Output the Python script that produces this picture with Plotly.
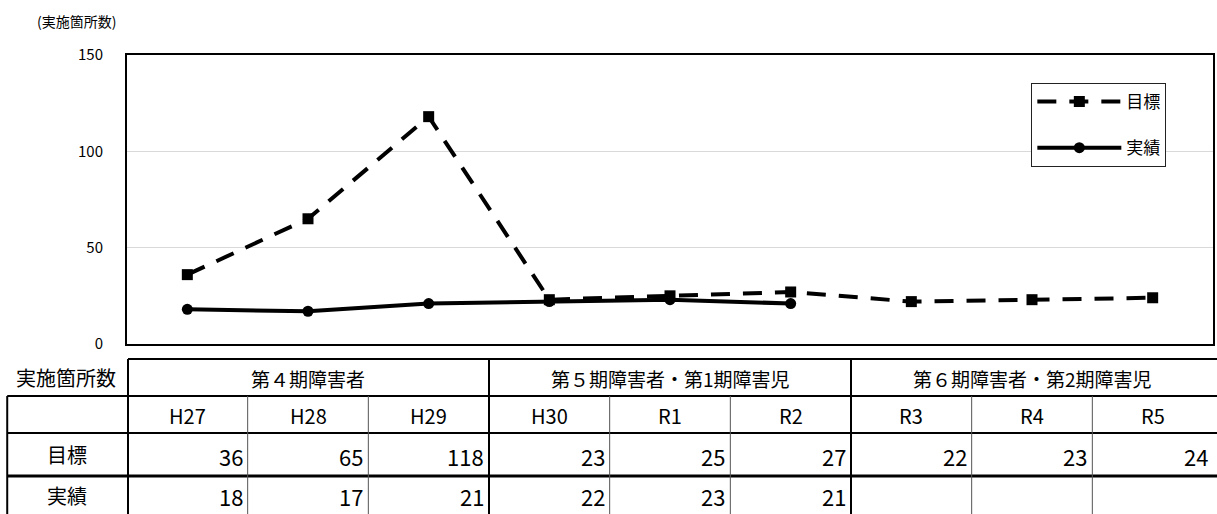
import plotly.graph_objects as go

# -- data --
years = ["H27", "H28", "H29", "H30", "R1", "R2", "R3", "R4", "R5"]
target = [36, 65, 118, 23, 25, 27, 22, 23, 24]
actual = [18, 17, 21, 22, 23, 21]
periods = ["第４期障害者", "第５期障害者・第1期障害児", "第６期障害者・第2期障害児"]
period_span = [3, 3, 3]
row_labels = ["目標", "実績"]
y_ticks = [0, 50, 100, 150]

FONT = "Noto Sans CJK JP"
INK = "#000000"

# -- page geometry (pixels) --
W, H = 1217, 514
L, R, T, B = 127, 2, 55, 170
PW = W - L - R
PH = H - T - B


def px(v):
    return (v - L) / PW


def py(v):
    return (H - B - v) / PH


def edge(k):
    # paper x of the boundary after k categories
    return k / len(years)


fig = go.Figure()

fig.add_trace(go.Scatter(
    x=years, y=target, name="目標", mode="lines+markers",
    line=dict(color=INK, width=4, dash="19px,13px"),
    marker=dict(symbol="square", size=11, color=INK),
    legendgroup="a",
))
fig.add_trace(go.Scatter(
    x=years[:len(actual)], y=actual, name="実績", mode="lines+markers",
    line=dict(color=INK, width=4),
    marker=dict(symbol="circle", size=11, color=INK),
    legendgroup="b",
))

# -- table below the chart --
rows = [359, 396, 433, 476, 522]
shapes = []


def hline(y, x0, x1, w):
    shapes.append(dict(type="line", xref="paper", yref="paper",
                       x0=x0, x1=x1, y0=py(y), y1=py(y),
                       line=dict(color=INK, width=w)))


def vline(x, y0, y1, w, color=INK):
    shapes.append(dict(type="line", xref="paper", yref="paper",
                       x0=x, x1=x, y0=py(y0), y1=py(y1),
                       line=dict(color=color, width=w)))


hline(rows[0], px(128), px(W + 5), 2)
hline(rows[1], px(7), px(W + 5), 2)
hline(rows[2], px(7), px(W + 5), 2)
hline(rows[3], px(7), px(W + 5), 3)
vline(px(128), rows[0], rows[-1], 2)
vline(px(7), rows[1], rows[-1], 2)

k = 0
for span in period_span[:-1]:
    k += span
    vline(edge(k), rows[0], rows[-1], 2)
group_edges = {sum(period_span[:i + 1]) for i in range(len(period_span))}
for k in range(1, len(years)):
    if k not in group_edges:
        vline(edge(k), rows[1], rows[-1], 1, "#555555")

ann = []


def text(s, x, y, size, xref="paper", **kw):
    ann.append(dict(text=s, x=x, y=y, xref=xref, yref="paper",
                    showarrow=False, font=dict(family=FONT, size=size, color=INK),
                    yanchor="middle", **kw))


text("(実施箇所数)", px(35), py(21), 14, xanchor="left")
text("実施箇所数", px(66), py(377), 20, xanchor="center")

start = 0
for name, span in zip(periods, period_span):
    text(name, start + (span - 1) / 2, py(378), 19, xref="x", xanchor="center")
    start += span

for i, yr in enumerate(years):
    text(yr, i, py(415), 20, xref="x", xanchor="center")

text(row_labels[0], px(67), py(455), 20, xanchor="center")
text(row_labels[1], px(67), py(495), 20, xanchor="center")

for i, v in enumerate(target):
    text(str(v), i + 0.5, py(456), 22, xref="x", xanchor="right", xshift=-3)
for i, v in enumerate(actual):
    text(str(v), i + 0.5, py(496), 22, xref="x", xanchor="right", xshift=-3)

fig.update_layout(
    width=W, height=H,
    margin=dict(l=L, r=R, t=T, b=B),
    paper_bgcolor="white", plot_bgcolor="white",
    font=dict(family=FONT, color=INK),
    showlegend=True,
    legend=dict(
        x=px(1033), y=py(83), xanchor="left", yanchor="top",
        bgcolor="white", bordercolor="#222222", borderwidth=1,
        font=dict(family=FONT, size=17, color=INK),
        itemwidth=84, traceorder="grouped", tracegroupgap=21,
    ),
    shapes=shapes,
    annotations=ann,
)
fig.update_xaxes(
    type="category", range=[-0.5, len(years) - 0.5],
    showticklabels=False, showgrid=False, zeroline=False,
    showline=True, mirror=True, linecolor=INK, linewidth=2, ticks="",
)
fig.update_yaxes(
    range=[0, 150], tickvals=y_ticks,
    showgrid=True, gridcolor="#d9d9d9", gridwidth=1, zeroline=False,
    showline=True, mirror=True, linecolor=INK, linewidth=2, ticks="",
    ticklabelstandoff=19,
    tickfont=dict(family=FONT, size=15, color=INK),
)

# the page's default body margin would shift the figure by 8px
fig.write_html(
    "out.html",
    config={"displayModeBar": False},
    post_script="document.body.style.margin='0';",
)
